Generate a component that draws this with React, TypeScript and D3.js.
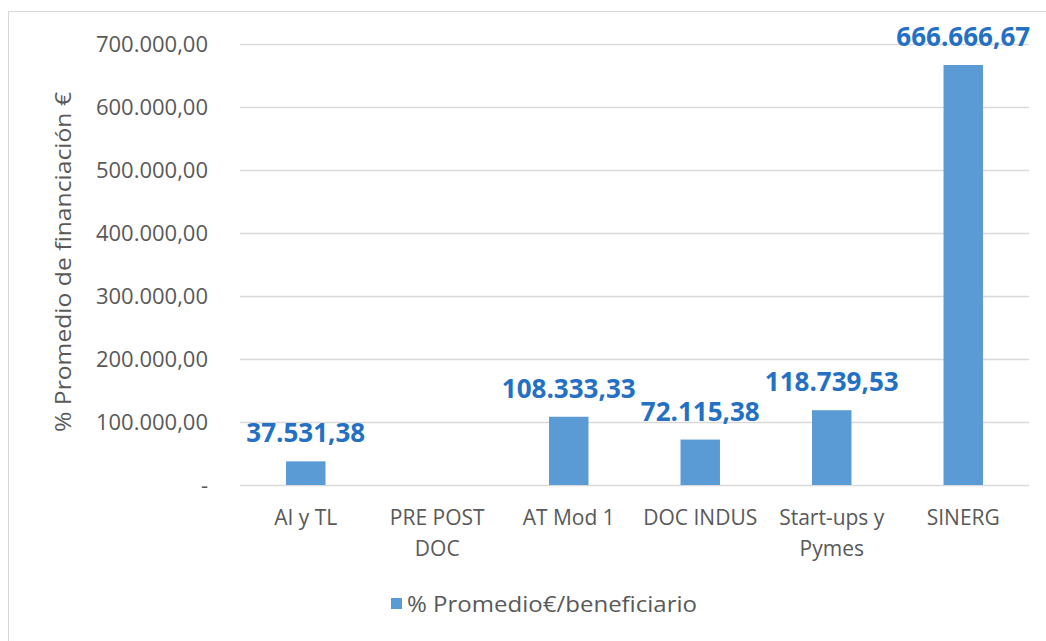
import React, { useEffect, useRef } from 'react';
import * as d3 from 'd3';

const categories = ['AI y TL', 'PRE POST DOC', 'AT Mod 1', 'DOC INDUS', 'Start-ups y Pymes', 'SINERG'];
const categoryLines = [['AI y TL'], ['PRE POST', 'DOC'], ['AT Mod 1'], ['DOC INDUS'], ['Start-ups y', 'Pymes'], ['SINERG']];
const values = [37531.38, 0, 108333.33, 72115.38, 118739.53, 666666.67];
const valueLabels = ['37.531,38', '', '108.333,33', '72.115,38', '118.739,53', '666.666,67'];
const yTicks = [0, 100000, 200000, 300000, 400000, 500000, 600000, 700000];
const yTickLabels = ['-', '100.000,00', '200.000,00', '300.000,00', '400.000,00', '500.000,00', '600.000,00', '700.000,00'];
const seriesName = '% Promedio€/beneficiario';
const yTitle = '% Promedio de financiación €';

const W = 1046;
const H = 641;
const FONT = '"Open Sans", sans-serif';
const GREY = '#595959';
const BAR = '#5b9bd5';

const App = () => {
  const svgRef = useRef<SVGSVGElement>(null);

  useEffect(() => {
    const svg = d3.select(svgRef.current);
    svg.selectAll('*').remove();

    const left = 240, right = 1029, top = 44, bottom = 485;

    const x = d3.scaleBand().domain(categories).range([left, right]).paddingInner(0.7).paddingOuter(0.35);
    const y = d3.scaleLinear().domain([0, 700000]).range([bottom, top]);

    // chart border
    svg.append('rect')
      .attr('x', 8.5).attr('y', 11.5)
      .attr('width', W + 10).attr('height', H + 10)
      .attr('fill', 'white').attr('stroke', '#d9d9d9');

    // gridlines
    svg.append('g').selectAll('line')
      .data(yTicks)
      .enter()
      .append('line')
      .attr('x1', left).attr('x2', right)
      .attr('y1', d => Math.round(y(d)) + 0.5).attr('y2', d => Math.round(y(d)) + 0.5)
      .attr('stroke', '#d9d9d9').attr('stroke-width', 1.5);

    // y tick labels
    svg.append('g').selectAll('text')
      .data(yTicks)
      .enter()
      .append('text')
      .attr('x', 208)
      .attr('y', d => y(d) + 8)
      .attr('text-anchor', 'end')
      .attr('font-family', FONT).attr('font-size', 22)
      .attr('fill', GREY)
      .text((d, i) => yTickLabels[i]);

    // y axis title
    svg.append('text')
      .attr('transform', `translate(71,262) rotate(-90)`)
      .attr('text-anchor', 'middle')
      .attr('font-family', FONT).attr('font-size', 22)
      .attr('textLength', 340).attr('lengthAdjust', 'spacingAndGlyphs')
      .attr('fill', GREY)
      .text(yTitle);

    // bars
    svg.append('g').selectAll('rect')
      .data(values)
      .enter()
      .append('rect')
      .attr('x', (d, i) => x(categories[i]))
      .attr('y', d => y(d))
      .attr('width', x.bandwidth())
      .attr('height', d => bottom - y(d))
      .attr('fill', BAR);

    // value labels
    svg.append('g').selectAll('text')
      .data(values)
      .enter()
      .append('text')
      .attr('x', (d, i) => x(categories[i]) + x.bandwidth() / 2)
      .attr('y', d => y(d) - 19)
      .attr('text-anchor', 'middle')
      .attr('font-family', FONT).attr('font-size', 26).attr('font-weight', 'bold')
      .attr('fill', '#2470c4')
      .text((d, i) => valueLabels[i]);

    // category labels
    const cat = svg.append('g').selectAll('text')
      .data(categoryLines)
      .enter()
      .append('text')
      .attr('text-anchor', 'middle')
      .attr('font-family', FONT).attr('font-size', 21)
      .attr('fill', GREY);
    cat.each(function (lines, i) {
      const cx = x(categories[i]) + x.bandwidth() / 2;
      d3.select(this).selectAll('tspan')
        .data(lines)
        .enter()
        .append('tspan')
        .attr('x', cx)
        .attr('y', (l, j) => 525 + j * 31)
        .text(l => l);
    });

    // legend
    const lg = svg.append('g');
    lg.append('rect')
      .attr('x', 391).attr('y', 598).attr('width', 11).attr('height', 11)
      .attr('fill', BAR);
    lg.append('text')
      .attr('x', 407).attr('y', 612)
      .attr('font-family', FONT).attr('font-size', 21)
      .attr('textLength', 290).attr('lengthAdjust', 'spacingAndGlyphs')
      .attr('fill', GREY)
      .text(seriesName);
  }, []);

  return (
    <svg ref={svgRef} width={W} height={H}
      style={{ position: 'absolute', left: 0, top: 0, background: 'white' }} />
  );
};

export default App;
